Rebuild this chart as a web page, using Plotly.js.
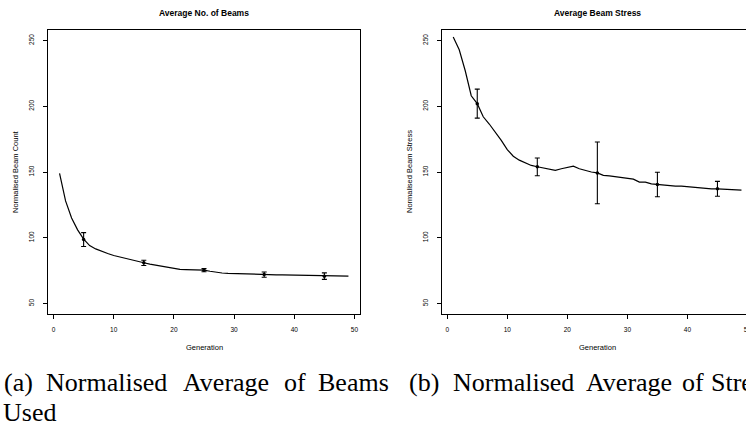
<!DOCTYPE html>
<html>
<head>
<meta charset="utf-8">
<script src="https://cdn.plot.ly/plotly-3.0.1.min.js"></script>
<style>
html, body { margin: 0; padding: 0; overflow: hidden; background: #ffffff; }
#chart { width: 770px; height: 428px; }
</style>
</head>
<body>
<div id="chart"></div>
<script>
// ---- data ----
var generations = [1,2,3,4,5,6,7,8,9,10,11,12,13,14,15,16,17,18,19,20,21,22,23,24,25,
  26,27,28,29,30,31,32,33,34,35,36,37,38,39,40,41,42,43,44,45,46,47,48,49];

var beamCount = [149,128,115,106,99,94,91.5,89.5,88,86.5,85.3,84.2,83.2,82.2,81,80,79.2,78.5,77.3,76.5,
  76,75.8,75.6,75.5,75.3,74.5,73.7,73.2,72.9,72.7,72.5,72.3,72.2,72.1,72,71.9,71.8,71.7,71.6,71.5,
  71.4,71.3,71.2,71.1,71,70.9,70.9,70.8,70.8];

var beamStress = [252.7,243,227,208,202,192,186.5,180.5,174,167,162,159,157,155,154,153,152,151.3,152.5,153.5,
  154.4,152.5,151,150,149.3,147.5,147,146.3,145.7,145.2,144.6,142.3,142.3,141,140.5,139.8,139.5,139.3,139.2,138.8,
  138,137.5,137.2,137.2,137.2,137,136.8,136.5,136.2];

var errGens = [5,15,25,35,45];
var countMeans = [98.6,80.9,75.3,72,70.8];
var countErr = [5.3,2,1.2,2,2.5];
var stressMeans = [202,153.9,149.3,140.5,137.2];
var stressErr = [11,6.8,23.5,9.3,5.7];

var xTicks = [0,10,20,30,40,50];
var yTicks = [50,100,150,200,250];

var titleLeft = "Average No. of Beams";
var titleRight = "Average Beam Stress";
var yTitleLeft = "Normalised Beam Count";
var yTitleRight = "Normalised Beam Stress";
var xTitle = "Generation";
var captionA1 = ["(a)","Normalised","Average","of","Beams"];
var captionA2 = ["Used"];
var captionB = ["(b)","Normalised","Average","of","Stress"];

// ---- geometry helpers (pixels -> paper) ----
var W = 770, H = 428, ML = 48, MR = 17, MT = 30, MB = 114;
var PW = W - ML - MR, PH = H - MT - MB;
function px(x){ return (x - ML) / PW; }
function py(y){ return (MT + PH - y) / PH; }

var sans = "Liberation Sans, Arial, sans-serif";
var serif = "Liberation Serif, DejaVu Serif, Noto Serif, Times, serif";

var traces = [
  { x: generations, y: beamCount, type: "scatter", mode: "lines",
    line: {color: "#000000", width: 1.2}, xaxis: "x", yaxis: "y", hoverinfo: "skip" },
  { x: errGens, y: countMeans, type: "scatter", mode: "markers",
    marker: {color: "#000000", size: 3.5},
    error_y: {type: "data", array: countErr, visible: true, color: "#000000", thickness: 1.1, width: 2.5},
    xaxis: "x", yaxis: "y", hoverinfo: "skip" },
  { x: generations, y: beamStress, type: "scatter", mode: "lines",
    line: {color: "#000000", width: 1.2}, xaxis: "x2", yaxis: "y2", hoverinfo: "skip" },
  { x: errGens, y: stressMeans, type: "scatter", mode: "markers",
    marker: {color: "#000000", size: 3.5},
    error_y: {type: "data", array: stressErr, visible: true, color: "#000000", thickness: 1.1, width: 2.5},
    xaxis: "x2", yaxis: "y2", hoverinfo: "skip" }
];

function xAxis(domain, anchor){
  return { domain: domain, anchor: anchor, range: [-0.92, 50.92], tickvals: xTicks,
    ticks: "outside", ticklen: 4, tickwidth: 1, tickcolor: "#000000", ticklabelstandoff: 5,
    showline: true, mirror: true, linecolor: "#000000", linewidth: 1.1,
    showgrid: false, zeroline: false, tickfont: {family: sans, size: 6.5, color: "#000000"} };
}
function yAxis(anchor){
  return { domain: [0,1], anchor: anchor, range: [42, 258], tickvals: yTicks, tickangle: -90,
    ticks: "outside", ticklen: 4, tickwidth: 1, tickcolor: "#000000", ticklabelstandoff: 6,
    showline: true, mirror: true, linecolor: "#000000", linewidth: 1.1,
    showgrid: false, zeroline: false, tickfont: {family: sans, size: 6.5, color: "#000000"} };
}

var leftR = 360, rightL = 441.7;
var annotations = [];
function ann(text, x, y, font, extra){
  var a = { text: text, xref: "paper", yref: "paper", x: px(x), y: py(y), showarrow: false,
    xanchor: "center", yanchor: "middle", font: font };
  if (extra) for (var k in extra) a[k] = extra[k];
  annotations.push(a);
}
var titleFont = {family: sans, size: 8.5, color: "#000000", weight: "bold"};
var axisFont = {family: sans, size: 7.5, color: "#000000"};
ann(titleLeft, (ML + leftR) / 2, 13, titleFont);
ann(titleRight, (rightL + rightL + 312) / 2, 13, titleFont);
ann(yTitleLeft, 15, 172, axisFont, {textangle: -90});
ann(yTitleRight, 409, 172, axisFont, {textangle: -90});
ann(xTitle, 204, 347, axisFont);
ann(xTitle, 597, 347, axisFont);

var capA1X = [2, 44, 181, 282, 316];
var capBX = [407, 451, 584, 680, 709];
captionA1.forEach(function(w, i){ ann(w, capA1X[i], 382, {family: serif, size: 26, color: "#000000"}, {xanchor: "left"}); });
captionA2.forEach(function(w){ ann(w, 1, 412, {family: serif, size: 26, color: "#000000"}, {xanchor: "left"}); });
captionB.forEach(function(w, i){ ann(w, capBX[i], 382, {family: serif, size: 26, color: "#000000"}, {xanchor: "left"}); });

var layout = {
  width: W, height: H,
  margin: {l: ML, r: MR, t: MT, b: MB, pad: 0},
  paper_bgcolor: "#ffffff", plot_bgcolor: "#ffffff",
  showlegend: false,
  font: {family: sans},
  xaxis: xAxis([0, px(leftR)], "y"),
  yaxis: yAxis("x"),
  xaxis2: xAxis([px(rightL), 1], "y2"),
  yaxis2: yAxis("x2"),
  annotations: annotations
};

Plotly.newPlot("chart", traces, layout, {displayModeBar: false, staticPlot: true});
</script>
</body>
</html>
